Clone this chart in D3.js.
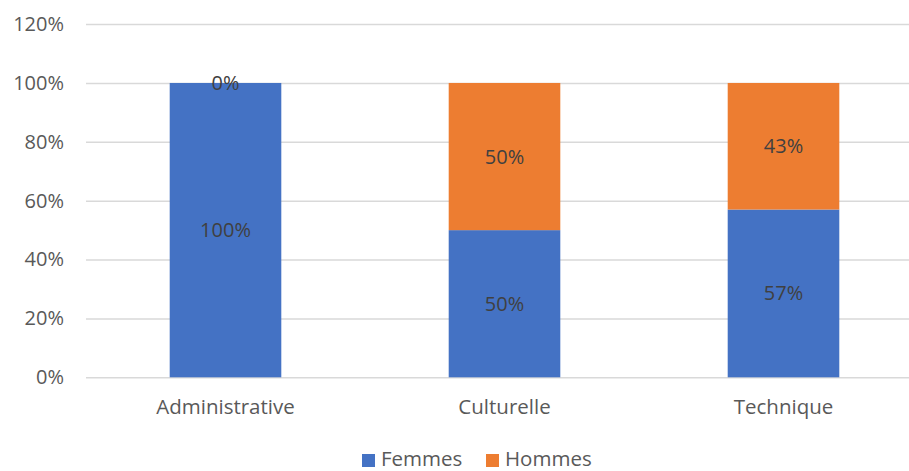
<!DOCTYPE html>
<html><head><meta charset="utf-8">
<script src="https://cdn.jsdelivr.net/npm/d3@7"></script>
<style>body{margin:0;background:#fff}svg{display:block}text{font-family:"Open Sans","Liberation Sans",sans-serif}</style>
</head><body><svg id="c" width="909" height="471"></svg>
<script>
const categories = ["Administrative", "Culturelle", "Technique"];
const seriesNames = ["Femmes", "Hommes"];
const femmes = [100, 50, 57];
const hommes = [0, 50, 43];
const yTicks = [0, 20, 40, 60, 80, 100, 120];
const colors = ["#4472C4", "#ED7D31"];

const svg = d3.select("#c");
const x = d3.scaleBand().domain(categories).range([86, 923]).paddingInner(0.6).paddingOuter(0.3);
const y = d3.scaleLinear().domain([0, 120]).range([377.3, 24.1]);

const yAxis = svg.append("g").attr("transform", "translate(86,0)")
  .call(d3.axisLeft(y).tickValues(yTicks).tickFormat(d => d + "%").tickSize(-837).tickPadding(22));
yAxis.select(".domain").remove();
yAxis.selectAll("line").attr("stroke", "#D9D9D9").attr("stroke-width", 1.5);
yAxis.selectAll("text").attr("fill", "#595959").style("font-size", "20px");

const rows = categories.map((c, i) => ({cat: c, Femmes: femmes[i], Hommes: hommes[i]}));
const stacked = d3.stack().keys(seriesNames)(rows);

stacked.forEach((s, si) => {
  const g = svg.append("g");
  g.selectAll("rect").data(s).enter().append("rect")
    .attr("x", d => x(d.data.cat)).attr("width", x.bandwidth())
    .attr("y", d => y(d[1])).attr("height", d => y(d[0]) - y(d[1]))
    .attr("fill", colors[si]);
});
stacked.forEach((s, si) => {
  svg.append("g").selectAll("text").data(s).enter().append("text")
    .attr("x", d => x(d.data.cat) + x.bandwidth() / 2)
    .attr("y", d => y((d[0] + d[1]) / 2))
    .attr("dy", "0.35em").attr("text-anchor", "middle")
    .attr("fill", "#404040").style("font-size", "20px")
    .text(d => (d[1] - d[0]) + "%");
});

const xAxis = svg.append("g").attr("transform", "translate(0,377.3)")
  .call(d3.axisBottom(x).tickSize(0).tickPadding(22));
xAxis.select(".domain").remove();
xAxis.selectAll("text").attr("fill", "#595959").style("font-size", "20.5px");

const legend = svg.append("g");
const lx = [362, 486];
seriesNames.forEach((n, i) => {
  legend.append("rect").attr("x", lx[i]).attr("y", 454).attr("width", 13).attr("height", 13).attr("fill", colors[i]);
  legend.append("text").attr("x", lx[i] + 19).attr("y", 459).attr("dy", "0.35em")
    .attr("fill", "#595959").style("font-size", "20.5px").text(n);
});
</script></body></html>
